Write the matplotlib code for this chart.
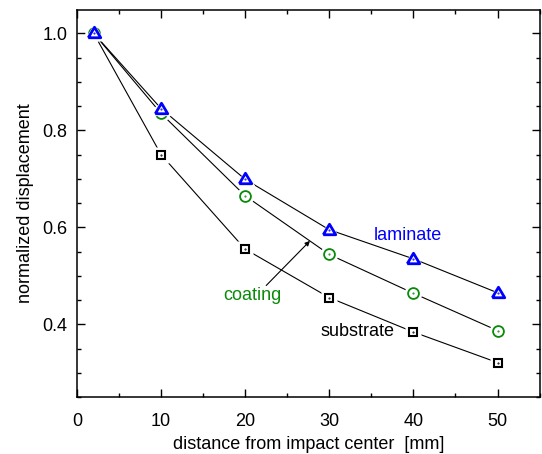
import numpy as np
import matplotlib
matplotlib.use('Agg')
import matplotlib.pyplot as plt
from matplotlib.ticker import MultipleLocator

plt.rcParams['font.family'] = ['Liberation Sans', 'DejaVu Sans']

# data
distance = [2, 10, 20, 30, 40, 50]
laminate = [1.0, 0.845, 0.699, 0.595, 0.535, 0.465]
coating = [1.0, 0.835, 0.665, 0.544, 0.464, 0.387]
substrate = [1.0, 0.750, 0.555, 0.455, 0.384, 0.321]

blue = '#0000ff'
green = '#0a8a0a'

# flat, IDL-like triangle
tri = [(-1, -0.68), (1, -0.68), (0, 1.0), (-1, -0.68)]

fig = plt.figure(figsize=(5.42, 4.54), dpi=100)
ax = fig.add_axes([0.142, 0.1256, 0.8535, 0.852])

series = [
   (substrate, 's', 'black', 6.2, 1.5),
   (coating, 'o', green, 7.8, 1.3),
   (laminate, tri, blue, 9.0, 2.0),
]

# connecting lines first, white halos to open a gap, then the markers
for vals, mk, col, ms, mew in series:
   ax.plot(distance, vals, '-', color='black', lw=0.8, zorder=1)
for i, (vals, mk, col, ms, mew) in enumerate(series):
   ax.plot(distance, vals, ls='none', marker=mk, ms=ms + 5, mfc='white',
           mec='none', zorder=2 + 2 * i)
   ax.plot(distance, vals, ls='none', marker=mk, ms=ms, mfc='none',
           mec=col, mew=mew, zorder=3 + 2 * i)
   ax.plot(distance, vals, ls='none', marker='.', ms=1.0, color=col,
           zorder=3 + 2 * i)

ax.text(39.3, 0.584, 'laminate', color=blue, fontsize=13,
        ha='center', va='center')
ax.text(20.9, 0.46, 'coating', color=green, fontsize=13,
        ha='center', va='center')
ax.text(33.4, 0.386, 'substrate', color='black', fontsize=13,
        ha='center', va='center')
ax.annotate('', xy=(27.7, 0.572), xytext=(22.5, 0.48),
            arrowprops=dict(arrowstyle='-|>', color='black', lw=0.8,
                            mutation_scale=7, shrinkA=0, shrinkB=0))

ax.set_xlim(0, 55)
ax.set_ylim(0.25, 1.048)
ax.xaxis.set_minor_locator(MultipleLocator(5))
ax.yaxis.set_minor_locator(MultipleLocator(0.05))
ax.set_xticks([0, 10, 20, 30, 40, 50])
ax.set_yticks([0.4, 0.6, 0.8, 1.0])
ax.tick_params(which='both', direction='in', top=True, right=True,
               labelsize=13, width=1)
ax.tick_params(which='major', length=5.5)
ax.tick_params(which='minor', length=3)
ax.tick_params(axis='x', which='major', pad=11.5)
ax.tick_params(axis='y', which='major', pad=7)
for sp in ax.spines.values():
   sp.set_linewidth(1.1)

ax.set_xlabel('distance from impact center  [mm]', fontsize=13, labelpad=4)
ax.set_ylabel('normalized displacement', fontsize=13, labelpad=6)

fig.savefig('out.png', dpi=100)
